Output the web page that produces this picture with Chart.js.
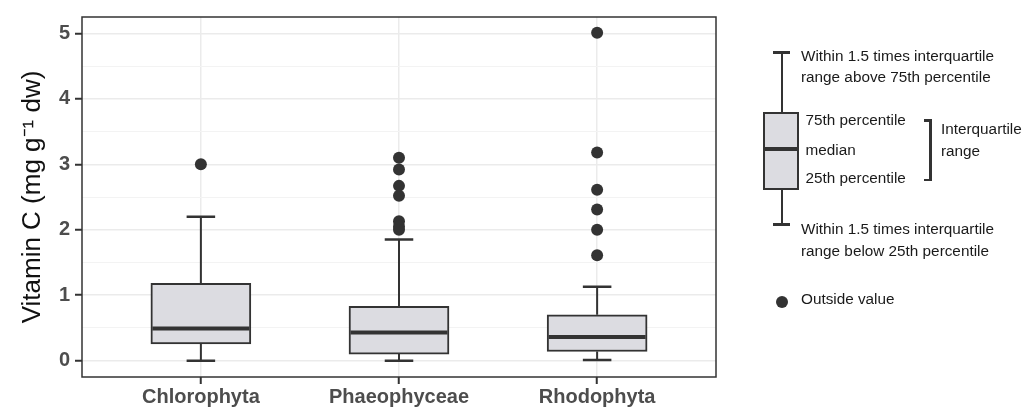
<!DOCTYPE html>
<html>
<head>
<meta charset="utf-8">
<script src="https://cdn.jsdelivr.net/npm/chart.js@4.4.1/dist/chart.umd.min.js"></script>
<style>
  html, body { margin: 0; padding: 0; background: #fff; }
  #wrap { position: relative; width: 1035px; height: 409px; font-family: "Liberation Sans", Arial, sans-serif; }
  #chart { position: absolute; left: 0; top: 0; }
  .lg-line { position: absolute; background: #333; }
  .lg-box { position: absolute; box-sizing: border-box; background: #dcdce1; border: 2px solid #333; }
  .lg-dot { position: absolute; width: 12px; height: 12px; border-radius: 50%; background: #333; }
  .lg-text { position: absolute; font-size: 15.3px; color: #1a1a1a; white-space: nowrap; line-height: 1; transform: translateY(-50%); }
</style>
</head>
<body>
<div id="wrap">
  <canvas id="chart" width="1035" height="409"></canvas>
  <div id="legend"></div>
</div>
<script>
const groups = ['Chlorophyta', 'Phaeophyceae', 'Rhodophyta'];
const whiskerLow = [0.0, 0.0, 0.01];
const q1 = [0.255, 0.10, 0.14];
const median = [0.49, 0.43, 0.36];
const q3 = [1.18, 0.83, 0.70];
const whiskerHigh = [2.2, 1.85, 1.13];
const outliers = [
  [3.0],
  [3.10, 2.92, 2.67, 2.52, 2.13, 2.05, 2.0],
  [5.01, 3.18, 2.61, 2.31, 2.0, 1.61]
];
const yTicks = [0, 0.5, 1, 1.5, 2, 2.5, 3, 3.5, 4, 4.5, 5];

const boxColor = '#dcdce1';
const inkColor = '#333333';
const gridMajor = '#ebebeb';
const gridMinor = '#f3f3f3';

// whiskers behind the boxes, median on top, panel border last
const boxPlotExtras = {
  id: 'boxPlotExtras',
  beforeDatasetsDraw(chart) {
    const { ctx, scales: { x, y } } = chart;
    ctx.save();
    ctx.strokeStyle = inkColor;
    groups.forEach((g, i) => {
      const px = x.getPixelForValue(i + 1);
      const half = (x.getPixelForValue(1.072) - x.getPixelForValue(1));
      ctx.lineWidth = 2;
      ctx.beginPath();
      ctx.moveTo(px, y.getPixelForValue(whiskerHigh[i]));
      ctx.lineTo(px, y.getPixelForValue(q3[i]));
      ctx.moveTo(px, y.getPixelForValue(q1[i]));
      ctx.lineTo(px, y.getPixelForValue(whiskerLow[i]));
      ctx.stroke();
      ctx.lineWidth = 2.5;
      ctx.beginPath();
      ctx.moveTo(px - half, y.getPixelForValue(whiskerHigh[i]));
      ctx.lineTo(px + half, y.getPixelForValue(whiskerHigh[i]));
      ctx.moveTo(px - half, y.getPixelForValue(whiskerLow[i]));
      ctx.lineTo(px + half, y.getPixelForValue(whiskerLow[i]));
      ctx.stroke();
    });
    ctx.restore();
  },
  afterDatasetsDraw(chart) {
    const { ctx, chartArea, scales: { x, y } } = chart;
    ctx.save();
    ctx.strokeStyle = inkColor;
    ctx.lineWidth = 4;
    groups.forEach((g, i) => {
      const left = x.getPixelForValue(i + 1 - 0.25);
      const right = x.getPixelForValue(i + 1 + 0.25);
      const py = y.getPixelForValue(median[i]);
      ctx.beginPath();
      ctx.moveTo(left + 1, py);
      ctx.lineTo(right - 1, py);
      ctx.stroke();
    });
    ctx.lineWidth = 1.5;
    ctx.strokeRect(chartArea.left, chartArea.top, chartArea.right - chartArea.left, chartArea.bottom - chartArea.top);
    ctx.restore();
  }
};

const outlierPoints = [];
outliers.forEach((vals, i) => vals.forEach((v) => outlierPoints.push({ x: i + 1, y: v })));

new Chart(document.getElementById('chart'), {
  type: 'bar',
  data: {
    datasets: [
      {
        label: 'IQR',
        data: groups.map((g, i) => ({ x: i + 1, y: [q1[i], q3[i]] })),
        backgroundColor: boxColor,
        borderColor: inkColor,
        borderWidth: 2,
        borderSkipped: false,
        barThickness: 100,
        grouped: false,
        order: 2
      },
      {
        type: 'scatter',
        label: 'Outside value',
        data: outlierPoints,
        pointRadius: 6,
        pointBackgroundColor: inkColor,
        pointBorderWidth: 0,
        order: 1
      }
    ]
  },
  options: {
    responsive: false,
    animation: false,
    layout: { padding: { left: 0, top: 11, right: 319, bottom: 0 } },
    plugins: { legend: { display: false }, tooltip: { enabled: false } },
    scales: {
      x: {
        type: 'linear',
        min: 0.4,
        max: 3.6,
        offset: false,
        afterBuildTicks(scale) {
          scale.ticks = groups.map((g, i) => ({ value: i + 1 }));
        },
        afterFit(scale) { scale.height = 32; },
        ticks: {
          callback: (v) => groups[v - 1] || '',
          color: '#4d4d4d',
          font: { family: '"Liberation Sans", Arial, sans-serif', size: 20, weight: 'bold' },
          padding: 1,
          maxRotation: 0
        },
        grid: { offset: false, color: gridMajor, lineWidth: 1.5, tickColor: inkColor, tickLength: 7, tickWidth: 2 },
        border: { display: false }
      },
      y: {
        min: -0.25,
        max: 5.25,
        afterBuildTicks(scale) {
          scale.ticks = yTicks.map((v) => ({ value: v }));
        },
        afterFit(scale) { scale.width = 82; },
        ticks: {
          callback: (v) => (Number.isInteger(v) ? String(v) : ''),
          color: '#4d4d4d',
          font: { family: '"Liberation Sans", Arial, sans-serif', size: 20, weight: 'bold' },
          padding: 5
        },
        grid: {
          color: (c) => (Number.isInteger(c.tick.value) ? gridMajor : gridMinor),
          lineWidth: (c) => (Number.isInteger(c.tick.value) ? 1.5 : 1),
          tickColor: (c) => (Number.isInteger(c.tick.value) ? inkColor : 'rgba(0,0,0,0)'),
          tickLength: 7,
          tickWidth: 2
        },
        border: { display: false },
        title: {
          display: true,
          text: 'Vitamin C (mg g\u207B\u00B9 dw)',
          color: '#111',
          font: { family: '"Liberation Sans", Arial, sans-serif', size: 26, lineHeight: 1 },
          padding: { top: 20, bottom: 0 }
        }
      }
    }
  },
  plugins: [boxPlotExtras]
});

// explanatory key on the right
const legendParts = [
  ['line', 780.7, 52, 2, 61],
  ['line', 773, 51, 17, 3],
  ['line', 780.7, 189, 2, 35],
  ['line', 773, 223, 17, 3],
  ['box', 763, 112, 36, 78],
  ['line', 763, 147, 36, 4],
  ['line', 929, 119, 2.5, 62],
  ['line', 924, 119, 7, 2.5],
  ['line', 924, 178.5, 7, 2.5],
  ['dot', 775.7, 295.7]
];
const legendTexts = [
  ['Within 1.5 times interquartile', 801, 56],
  ['range above 75th percentile', 801, 77],
  ['75th percentile', 805.5, 120],
  ['median', 805.5, 150],
  ['25th percentile', 805.5, 178],
  ['Interquartile', 941, 129],
  ['range', 941, 151],
  ['Within 1.5 times interquartile', 801, 229],
  ['range below 25th percentile', 801, 251],
  ['Outside value', 801, 299]
];
const legendEl = document.getElementById('legend');
legendParts.forEach(([kind, left, top, w, h]) => {
  const el = document.createElement('div');
  el.className = kind === 'line' ? 'lg-line' : kind === 'box' ? 'lg-box' : 'lg-dot';
  el.style.left = left + 'px';
  el.style.top = top + 'px';
  if (w !== undefined) { el.style.width = w + 'px'; el.style.height = h + 'px'; }
  legendEl.appendChild(el);
});
legendTexts.forEach(([text, left, top]) => {
  const el = document.createElement('div');
  el.className = 'lg-text';
  el.textContent = text;
  el.style.left = left + 'px';
  el.style.top = top + 'px';
  legendEl.appendChild(el);
});
</script>
</body>
</html>
